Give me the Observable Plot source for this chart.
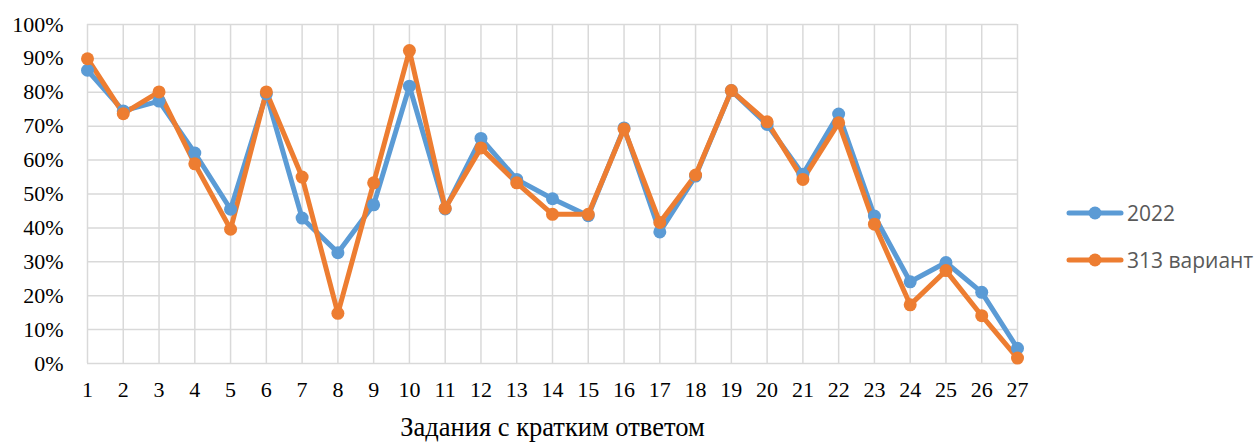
<!DOCTYPE html>
<html>
<head>
<meta charset="utf-8">
<script src="https://cdn.jsdelivr.net/npm/d3@7"></script>
<script src="https://cdn.jsdelivr.net/npm/@observablehq/plot@0.6"></script>
<style>
  html, body { margin: 0; padding: 0; background: #fff; }
  #wrap { position: relative; width: 1254px; height: 442px; }
  #legend { position: absolute; left: 1066px; top: 189px; font-family: "Open Sans", sans-serif; font-size: 21px; color: #595959; }
  #legend .item { display: flex; align-items: center; height: 47px; }
  #legend svg { margin-right: 3px; }
</style>
</head>
<body>
<div id="wrap"><div id="legend"></div></div>
<script>
const tasks = [1,2,3,4,5,6,7,8,9,10,11,12,13,14,15,16,17,18,19,20,21,22,23,24,25,26,27];
const values2022 = [0.865,0.745,0.774,0.621,0.455,0.795,0.429,0.327,0.468,0.818,0.456,0.664,0.543,0.486,0.436,0.695,0.388,0.553,0.805,0.705,0.558,0.736,0.435,0.241,0.298,0.21,0.045];
const values313 = [0.899,0.737,0.801,0.589,0.396,0.801,0.55,0.148,0.533,0.923,0.458,0.636,0.533,0.44,0.44,0.692,0.416,0.556,0.805,0.713,0.543,0.71,0.411,0.173,0.274,0.141,0.016];
const yTicks = [0,0.1,0.2,0.3,0.4,0.5,0.6,0.7,0.8,0.9,1.0];
const seriesNames = ["2022", "313 вариант"];
const seriesColors = ["#5B9BD5", "#ED7D31"];
const xTitle = "Задания с кратким ответом";

const data = [];
[values2022, values313].forEach((vals, si) => {
  tasks.forEach((t, i) => data.push({task: t, value: vals[i], series: seriesNames[si]}));
});

const chart = Plot.plot({
  width: 1254,
  height: 442,
  marginLeft: 87,
  marginRight: 237,
  marginTop: 24,
  marginBottom: 79,
  style: {fontFamily: "'Liberation Serif', 'Times New Roman', serif", fontSize: "22px", color: "#000", background: "#fff"},
  x: {type: "linear", domain: [1, 27]},
  y: {domain: [0, 1]},
  color: {domain: seriesNames, range: seriesColors},
  marks: [
    Plot.ruleY(yTicks, {y: d => d, stroke: "#D9D9D9", strokeWidth: 1.5, strokeOpacity: 1}),
    Plot.ruleX(tasks, {x: d => d, y1: 0, y2: 1, stroke: "#D9D9D9", strokeWidth: 1.5, strokeOpacity: 1}),
    Plot.axisY(yTicks, {tickSize: 0, tickPadding: 24, tickFormat: d => Math.round(d * 100) + "%", label: null, fill: "#000", fontSize: 22}),
    Plot.axisX(tasks, {tickSize: 0, tickPadding: 18, tickFormat: d => String(d), label: null, fill: "#000", fontSize: 22}),
    Plot.text([xTitle], {frameAnchor: "bottom", dy: 72, text: d => d, fontSize: 26.5, fill: "#000"}),
    Plot.line(data, {x: "task", y: "value", z: "series", stroke: "series", strokeWidth: 5, strokeLinejoin: "round", strokeLinecap: "round"}),
    Plot.dot(data, {x: "task", y: "value", fill: "series", r: 6.5, stroke: "none"})
  ]
});
document.getElementById("wrap").prepend(chart);

const legend = document.getElementById("legend");
seriesNames.forEach((name, i) => {
  const item = document.createElement("div");
  item.className = "item";
  item.innerHTML = `<svg width="58" height="20"><line x1="3" y1="10" x2="55" y2="10" stroke="${seriesColors[i]}" stroke-width="5" stroke-linecap="round"/><circle cx="29" cy="10" r="6.5" fill="${seriesColors[i]}"/></svg><span>${name}</span>`;
  legend.appendChild(item);
});
</script>
</body>
</html>
